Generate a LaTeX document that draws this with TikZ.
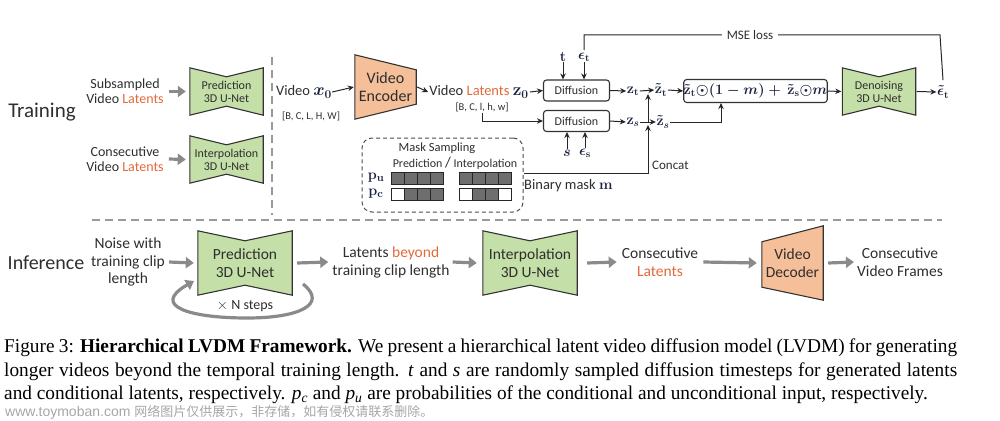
\documentclass[tikz,border=0pt]{standalone}
\usepackage[no-math]{fontspec}
\setmainfont{Carlito}
\newfontfamily\capfont[FakeStretch=0.99]{Liberation Serif}
\newfontfamily\wmfont{Liberation Sans}
\newfontfamily\cjkfont{Noto Sans CJK SC}
\usetikzlibrary{arrows.meta,calc}
\pgfdeclarelayer{bg}
\pgfsetlayers{bg,main}
\definecolor{ugreen}{HTML}{C5DFA8}
\definecolor{usalmon}{HTML}{F5BF99}
\definecolor{lorange}{HTML}{E2693A}
\definecolor{agray}{HTML}{8A8A8A}
\definecolor{txt}{HTML}{2E2E2E}
\definecolor{mathc}{HTML}{1C2340}
\definecolor{cellg}{HTML}{6E6E6E}
\definecolor{dashg}{HTML}{9A9A9A}
\newcommand\unetshape[2]{%
  \begin{pgfonlayer}{bg}
  \draw[ushape] (#1.north west) -- ($(#1.north)+(0,#2)$) -- (#1.north east)
     -- (#1.south east) -- ($(#1.south)+(0,-#2)$) -- (#1.south west) -- cycle;
  \end{pgfonlayer}}
\newcommand\trapshape[3]{%
  \begin{pgfonlayer}{bg}
  \draw[tshape] (#1.north west) -- ($(#1.north east)+(0,#2)$)
     -- ($(#1.south east)+(0,-#3)$) -- (#1.south west) -- cycle;
  \end{pgfonlayer}}
\newcommand\trapshapeL[3]{%
  \begin{pgfonlayer}{bg}
  \draw[tshape] ($(#1.north west)+(0,#2)$) -- (#1.north east)
     -- (#1.south east) -- ($(#1.south west)+(0,-#3)$) -- cycle;
  \end{pgfonlayer}}
\tikzset{
  lbl/.style={font=\fontsize{14}{15}\selectfont, align=center, text=txt, inner sep=0pt},
  lblI/.style={font=\fontsize{15.5}{17.5}\selectfont, align=center, text=txt, inner sep=0pt},
  mth/.style={font=\fontsize{14}{15}\selectfont\boldmath, text=mathc, inner sep=0.5pt},
  unet/.style={minimum width=73pt, minimum height=47pt, inner sep=0pt, align=center,
     font=\fontsize{12}{13}\selectfont, text=txt},
  unetI/.style={minimum width=94pt, minimum height=64pt, inner sep=0pt, align=center,
     font=\fontsize{15.5}{17.5}\selectfont, text=txt},
  ushape/.style={draw=black!80, fill=ugreen, line width=1.1pt, line join=miter},
  tshape/.style={draw=black!80, fill=usalmon, line width=1.1pt, line join=miter},
  gar/.style={draw=agray, line width=3.2pt, -{Triangle[length=8pt,width=11pt]}},
  blk/.style={draw=black!85, line width=1pt, -{Stealth[length=6pt,width=5.5pt]}},
  pline/.style={draw=black!85, line width=1pt},
  rbox/.style={draw=black!80, line width=1.1pt, rounded corners=3pt, inner sep=0pt,
     font=\fontsize{12}{13}\selectfont, text=txt},
  dashline/.style={draw=dashg, line width=1.3pt, dash pattern=on 8pt off 5pt},
  cellD/.style={draw=black!85, line width=0.8pt, fill=cellg},
  cellW/.style={draw=black!85, line width=0.8pt, fill=white},
  captext/.style={font=\capfont\fontsize{19.5}{21}\selectfont, inner sep=0pt, anchor=base west, text=black}
}
\begin{document}
\begin{tikzpicture}[x=1pt,y=-1pt]
\useasboundingbox (0,0) rectangle (1000,420);

% ---------------- Training ----------------
\node[font=\fontsize{21}{21}\selectfont, text=txt, inner sep=0pt] (trainlbl) at (42,112) {Training};
\node[lbl] (sub) at (125,91.5) {Subsampled\\Video \textcolor{lorange}{Latents}};
\node[lbl] (cons) at (125,159) {Consecutive\\Video \textcolor{lorange}{Latents}};
\node[unet] (predT) at (226.5,91.5) {Prediction\\3D U-Net};
\unetshape{predT}{9}
\node[unet] (intT) at (226.5,159.5) {Interpolation\\3D U-Net};
\unetshape{intT}{9}
\draw[gar] ([xshift=5pt]sub.east) -- ([xshift=-4pt]predT.west);
\draw[gar] ([xshift=5pt]cons.east) -- ([xshift=-4pt]intT.west);

% separators
\coordinate (vs1) at (272,57);
\coordinate (vs2) at (272,215);
\coordinate (hs1) at (92,220);
\coordinate (hs2) at (942,220);
\draw[dashline] (vs1) -- (vs2);
\draw[dashline] (hs1) -- (hs2);

% encoder
\node[lbl, font=\fontsize{14.5}{15}\selectfont] (vx) at (304,92) {Video \textcolor{mathc}{\boldmath\fontsize{18}{18}\selectfont$x_0$}};
\node[lbl, font=\fontsize{10.5}{11}\selectfont] (vxdim) at (311,116) {[B, C, L, H, W]};
\node[minimum width=61pt, minimum height=64pt, inner sep=0pt, align=center,
      font=\fontsize{16}{18}\selectfont, text=txt] (enc) at (385.5,87) {Video\\Encoder};
\trapshape{enc}{15}{15}
\draw[blk] (vx.east) -- ([xshift=-1pt]enc.west);
\node[lbl, font=\fontsize{14.5}{15}\selectfont] (vz) at (479,92) {Video \textcolor{lorange}{Latents} \textcolor{mathc}{\boldmath\fontsize{17}{17}\selectfont$\mathbf{z}_0$}};
\node[lbl, font=\fontsize{10.5}{11}\selectfont] (vzdim) at (482,107) {[B, C, l, h, w]};
\draw[blk] ([xshift=1pt]enc.east) -- ([xshift=-1pt]vz.west);

% diffusion
\node[rbox, minimum width=66pt, minimum height=21pt] (dif1) at (576.5,90.5) {Diffusion};
\node[rbox, minimum width=66pt, minimum height=21pt] (dif2) at (576.5,121) {Diffusion};
\draw[blk] ([xshift=1pt]vz.east) -- (dif1.west);
\draw[blk] ([yshift=-1pt]vzdim.south) |- (dif2.west);
\node[mth] (tn) at (563,57) {$\mathbf{t}$};
\node[mth] (et) at (584,57) {$\epsilon_{\mathbf t}$};
\node[mth] (sn) at (567,153) {$s$};
\node[mth] (es) at (585,153) {$\epsilon_{\mathbf s}$};
\draw[blk] (tn.south) -- (tn.south |- dif1.north);
\draw[blk] (et.south) -- (et.south |- dif1.north);
\draw[blk] (sn.north) -- (sn.north |- dif2.south);
\draw[blk] (es.north) -- (es.north |- dif2.south);

\node[mth] (zt) at (633,91) {$\mathbf{z}_{\mathbf t}$};
\node[mth] (zs) at (633,122) {$\mathbf{z}_{s}$};
\draw[blk] (dif1.east) -- (zt.west);
\draw[blk] (dif2.east) -- (zs.west);
\node[mth] (ztt) at (661,90) {$\tilde{\mathbf{z}}_{\mathbf t}$};
\node[mth] (zst) at (663,122) {$\tilde{\mathbf{z}}_{s}$};
\draw[blk] (zt.east) -- (ztt.west);
\draw[blk] (zs.east) -- (zst.west);

% mask sampling
\node[draw=black!70, line width=1pt, dash pattern=on 4pt off 3pt, rounded corners=10pt,
      minimum width=161pt, minimum height=74pt, inner sep=0pt] (mask) at (442.5,175) {};
\node[lbl, font=\fontsize{12.5}{13}\selectfont] (msamp) at (437,148) {Mask Sampling};
\node[lbl, font=\fontsize{12}{13}\selectfont] (pi) at (455,163) {Prediction {\fontsize{15}{15}\selectfont/} Interpolation};
\node[mth, font=\fontsize{15}{15}\selectfont\boldmath] (pu) at (376,178) {$\mathbf{p}_{\mathbf u}$};
\node[mth, font=\fontsize{15}{15}\selectfont\boldmath] (pc) at (376,194) {$\mathbf{p}_{\mathbf c}$};
\foreach \i in {0,1,2,3}{
  \draw[cellD] (391+13*\i,172) rectangle ++(13,12);
  \draw[cellD] (459+13*\i,172) rectangle ++(13,12);
}
\draw[cellW] (391,188) rectangle ++(13,12);
\foreach \i in {1,2,3}{\draw[cellD] (391+13*\i,188) rectangle ++(13,12);}
\draw[cellW] (459,188) rectangle ++(13,12);
\draw[cellD] (472,188) rectangle ++(13,12);
\draw[cellD] (485,188) rectangle ++(13,12);
\draw[cellW] (498,188) rectangle ++(13,12);
\node[lbl, font=\fontsize{14.5}{15}\selectfont, anchor=west] (bml) at (524,186) {Binary mask \textcolor{mathc}{\boldmath$\mathbf{m}$}};

\coordinate (jz) at (648,122);
\coordinate (jt) at (648,91);
\draw[blk] ([yshift=2pt]mask.east) -| ([yshift=-3pt]jz);
\draw[blk] (jz) -- ([yshift=-3pt]jt);
\node[lbl, font=\fontsize{13}{14}\selectfont, anchor=west] (concat) at (652,165) {Concat};

% blend
\node[rbox, minimum width=134pt, minimum height=23pt, text=mathc,
      font=\fontsize{14}{15}\selectfont\boldmath] (form) at (755.5,91)
      {$\tilde{\mathbf{z}}_{\mathbf t}{\odot}(1-m)+\,\tilde{\mathbf{z}}_{\mathbf s}{\odot} m$};
\draw[blk] (ztt.east) -- (form.west);
\draw[blk] (zst.east) -| ([xshift=-34.5pt]form.south);

\node[unet] (den) at (879,91.5) {Denoising\\3D U-Net};
\unetshape{den}{9}
\draw[blk] (form.east) -- ([xshift=-1pt]den.west);
\node[mth] (eout) at (943,92) {$\tilde{\epsilon}_{\mathbf t}$};
\draw[blk] ([xshift=1pt]den.east) -- (eout.west);
\coordinate (mtop) at (940,35);
\draw[pline] ([yshift=5pt]eout.north) -- (mtop) -- (et.north |- mtop) -- ([yshift=2pt]et.north);
\node[lbl, font=\fontsize{13}{14}\selectfont, fill=white, inner xsep=5pt, inner ysep=2pt] (mse) at (750,35) {MSE loss};

% ---------------- Inference ----------------
\node[font=\fontsize{20}{20}\selectfont, text=txt, inner sep=0pt] (inf) at (46,263) {Inference};
\node[lblI] (noise) at (128,262) {Noise with\\training clip\\length};
\node[unetI] (predI) at (245,263) {Prediction\\3D U-Net};
\unetshape{predI}{10}
\draw[gar] ([xshift=4pt]noise.east) -- ([xshift=-4pt]predI.west);
\coordinate (la) at (303,284);
\coordinate (lb) at (194,281);
\draw[draw=agray, line width=3.2pt, -{Triangle[length=8pt,width=11pt]}]
   (la) .. controls (328,304) and (300,318) .. (247,318) .. controls (190,318) and (150,306) .. (lb);
\node[lbl] (nsteps) at (245,306) {$\times$ N steps};
\node[lblI, font=\fontsize{15.5}{18}\selectfont] (latb) at (391,262) {Latents \textcolor{lorange}{beyond}\\training clip length};
\draw[gar] ([xshift=5pt]predI.east) -- ([xshift=-4pt]latb.west);
\node[unetI] (intI) at (530,263) {Interpolation\\3D U-Net};
\unetshape{intI}{10}
\draw[gar] ([xshift=3pt]latb.east) -- ([xshift=-6pt]intI.west);
\node[lblI, font=\fontsize{15.5}{18}\selectfont] (conl) at (660,262) {Consecutive\\\textcolor{lorange}{Latents}};
\draw[gar] ([xshift=10pt]intI.east) -- ([xshift=-5pt]conl.west);
\node[minimum width=61pt, minimum height=74pt, inner sep=0pt, align=center,
      font=\fontsize{15.5}{18}\selectfont, text=txt] (dec) at (792.5,263) {Video\\Decoder};
\trapshapeL{dec}{16}{13}
\draw[gar] ([xshift=5pt]conl.east) -- ([xshift=-5pt]dec.west);
\node[lblI, font=\fontsize{15.5}{18}\selectfont] (conf) at (900,262) {Consecutive\\Video Frames};
\draw[gar] ([xshift=5pt]dec.east) -- ([xshift=-3pt]conf.west);

% ---------------- Caption ----------------
\node[captext] (cap1) at (4,352) {\makebox[953pt][s]{Figure 3: \textbf{Hierarchical LVDM Framework.} We present a hierarchical latent video diffusion model (LVDM) for generating}};
\node[captext] (cap2) at (4,376) {\makebox[953pt][s]{longer videos beyond the temporal training length. \textit{t} and \textit{s} are randomly sampled diffusion timesteps for generated latents}};
\node[captext] (cap3) at (4,399) {and conditional latents, respectively. \textit{p}\textsubscript{\textit{c}} and \textit{p}\textsubscript{\textit{u}} are probabilities of the conditional and unconditional input, respectively.};
\node[anchor=base west, inner sep=0pt, text=black!35, font=\wmfont\fontsize{14}{14}\selectfont] (wm) at (5,416) {www.toymoban.com {\cjkfont\fontsize{13}{13}\selectfont 网络图片仅供展示，非存储，如有侵权请联系删除。}};
\end{tikzpicture}
\end{document}
